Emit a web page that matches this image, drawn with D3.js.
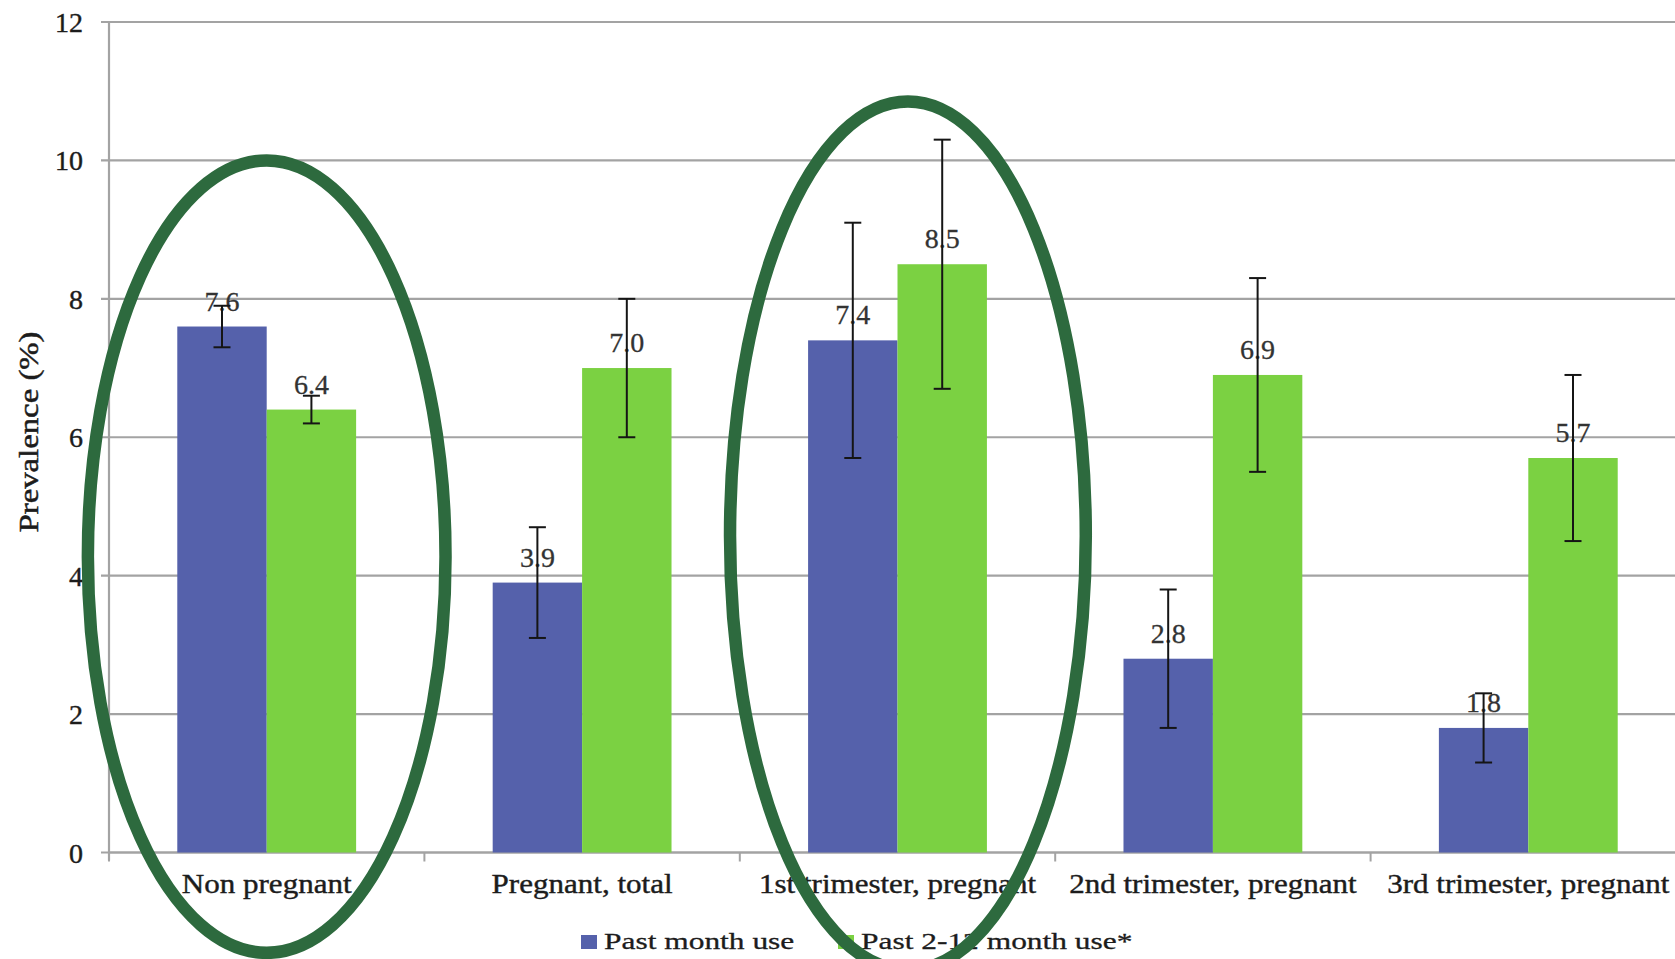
<!DOCTYPE html>
<html>
<head>
<meta charset="utf-8">
<script src="https://cdn.jsdelivr.net/npm/d3@7"></script>
<style>
  html, body { margin: 0; padding: 0; background: #ffffff; }
  svg { display: block; }
  text { font-family: "Liberation Serif", "DejaVu Serif", serif; }
</style>
</head>
<body>
<svg id="chart" width="1675" height="959"></svg>
<script>
// ---------- data ----------
const categories = ["Non pregnant", "Pregnant, total", "1st trimester, pregnant", "2nd trimester, pregnant", "3rd trimester, pregnant"];
const seriesNames = ["Past month use", "Past 2-12 month use*"];
const pastMonth = [7.6, 3.9, 7.4, 2.8, 1.8];
const pastMonthLow = [7.3, 3.1, 5.7, 1.8, 1.3];
const pastMonthHigh = [7.9, 4.7, 9.1, 3.8, 2.3];
const past212 = [6.4, 7.0, 8.5, 6.9, 5.7];
const past212Low = [6.2, 6.0, 6.7, 5.5, 4.5];
const past212High = [6.6, 8.0, 10.3, 8.3, 6.9];
const yTicks = [0, 2, 4, 6, 8, 10, 12];
const labels1 = ["7.6", "3.9", "7.4", "2.8", "1.8"];
const labels2 = ["6.4", "7.0", "8.5", "6.9", "5.7"];
// highlighted categories (annotation ellipses), extent in value units
const highlighted = ["Non pregnant", "1st trimester, pregnant"];
const highlightTop = [10.0, 10.85];
const highlightBottom = [-1.45, -1.7];

// ---------- styles ----------
const colors = ["#5561ab", "#7bd142"];
const ellipseColor = "#2d6a3e";
const gridColor = "#a3a3a3";
const textColor = "#1c1c1c";

const svg = d3.select("#chart");
const W = 1675, H = 959;
svg.append("rect").attr("width", W).attr("height", H).attr("fill", "#fff");

const left = 109, bandW = 315.4;
const x0 = d3.scaleBand().domain(categories).range([left, left + bandW * categories.length]).padding(0);
const groupFrac = 0.567;
const x1 = d3.scaleBand().domain(seriesNames)
  .range([(1 - groupFrac) / 2 * x0.bandwidth(), (1 + groupFrac) / 2 * x0.bandwidth()])
  .padding(0);
const y = d3.scaleLinear().domain([0, 12]).range([852.5, 22]);

// gridlines
const grid = svg.append("g");
grid.selectAll("line").data(yTicks).join("line")
  .attr("x1", left - 8).attr("x2", W)
  .attr("y1", d => y(d)).attr("y2", d => y(d))
  .attr("stroke", gridColor).attr("stroke-width", 2.2);

// y axis labels
const yAxis = d3.axisLeft(y).tickValues(yTicks).tickSize(0).tickPadding(0).tickFormat(d3.format("d"));
const gy = svg.append("g").attr("transform", `translate(${left - 26},0)`).call(yAxis);
gy.select(".domain").remove();
gy.selectAll("text")
  .attr("font-size", 28)
  .attr("fill", textColor).attr("stroke", textColor).attr("stroke-width", 0.4)
  .attr("dy", "0.34em");

// y axis line
svg.append("line").attr("x1", left).attr("x2", left).attr("y1", y(12)).attr("y2", y(0) + 8)
  .attr("stroke", gridColor).attr("stroke-width", 2.2);

// x axis line + category separators
svg.append("line").attr("x1", left).attr("x2", W).attr("y1", y(0)).attr("y2", y(0))
  .attr("stroke", gridColor).attr("stroke-width", 2.2);
svg.append("g").selectAll("line").data(categories).join("line")
  .attr("x1", d => x0(d)).attr("x2", d => x0(d))
  .attr("y1", y(0)).attr("y2", y(0) + 9)
  .attr("stroke", gridColor).attr("stroke-width", 2);

// bars
const rows = categories.map((c, i) => ({
  cat: c,
  vals: [
    { s: seriesNames[0], v: pastMonth[i], lo: pastMonthLow[i], hi: pastMonthHigh[i], lab: labels1[i], k: 0 },
    { s: seriesNames[1], v: past212[i], lo: past212Low[i], hi: past212High[i], lab: labels2[i], k: 1 }
  ]
}));

const groups = svg.append("g").selectAll("g").data(rows).join("g")
  .attr("transform", d => `translate(${x0(d.cat)},0)`);

groups.selectAll("rect").data(d => d.vals).join("rect")
  .attr("x", d => x1(d.s)).attr("width", x1.bandwidth())
  .attr("y", d => y(d.v)).attr("height", d => y(0) - y(d.v))
  .attr("fill", d => colors[d.k]);

// value labels
groups.selectAll("text.val").data(d => d.vals).join("text")
  .attr("class", "val")
  .attr("x", d => x1(d.s) + x1.bandwidth() / 2)
  .attr("y", d => y(d.v) - 16)
  .attr("text-anchor", "middle")
  .attr("font-size", 28).attr("fill", "#333").attr("stroke", "#333").attr("stroke-width", 0.3)
  .text(d => d.lab);

// error bars
const capW = 17;
const eb = groups.selectAll("g.err").data(d => d.vals).join("g").attr("class", "err")
  .attr("stroke", "#151515").attr("stroke-width", 2);
eb.append("line")
  .attr("x1", d => x1(d.s) + x1.bandwidth() / 2).attr("x2", d => x1(d.s) + x1.bandwidth() / 2)
  .attr("y1", d => y(d.hi)).attr("y2", d => y(d.lo));
eb.append("line")
  .attr("x1", d => x1(d.s) + x1.bandwidth() / 2 - capW / 2).attr("x2", d => x1(d.s) + x1.bandwidth() / 2 + capW / 2)
  .attr("y1", d => y(d.hi)).attr("y2", d => y(d.hi));
eb.append("line")
  .attr("x1", d => x1(d.s) + x1.bandwidth() / 2 - capW / 2).attr("x2", d => x1(d.s) + x1.bandwidth() / 2 + capW / 2)
  .attr("y1", d => y(d.lo)).attr("y2", d => y(d.lo));

// category labels
svg.append("g").selectAll("text").data(categories).join("text")
  .attr("transform", d => `translate(${x0(d) + x0.bandwidth() / 2},893) scale(1.15,1)`)
  .attr("text-anchor", "middle")
  .attr("font-size", 27).attr("fill", textColor).attr("stroke", textColor).attr("stroke-width", 0.4)
  .text(d => d);

// y axis title
svg.append("text")
  .attr("transform", "translate(38,432) rotate(-90) scale(1.17,1)")
  .attr("text-anchor", "middle")
  .attr("font-size", 28).attr("fill", textColor).attr("stroke", textColor).attr("stroke-width", 0.5)
  .text("Prevalence (%)");

// legend
const legendX = [581, 838];
const lg = svg.append("g").selectAll("g").data(seriesNames).join("g")
  .attr("transform", (d, i) => `translate(${legendX[i]},0)`);
lg.append("rect").attr("x", 0).attr("y", 935).attr("width", 16).attr("height", 14)
  .attr("fill", (d, i) => colors[i]);
lg.append("text")
  .attr("transform", "translate(23,949) scale(1.31,1)")
  .attr("font-size", 24).attr("fill", textColor).attr("stroke", textColor).attr("stroke-width", 0.3)
  .text(d => d);

// highlight ellipses
const ellDx = [0, 0.033];
const ellRx = [0.567, 0.564];
svg.append("g").selectAll("ellipse").data(highlighted).join("ellipse")
  .attr("cx", (d, i) => x0(d) + x0.bandwidth() / 2 + ellDx[i] * x0.bandwidth())
  .attr("cy", (d, i) => (y(highlightTop[i]) + y(highlightBottom[i])) / 2)
  .attr("rx", (d, i) => ellRx[i] * x0.bandwidth())
  .attr("ry", (d, i) => (y(highlightBottom[i]) - y(highlightTop[i])) / 2)
  .attr("fill", "none").attr("stroke", ellipseColor).attr("stroke-width", 12.5);
</script>
</body>
</html>
